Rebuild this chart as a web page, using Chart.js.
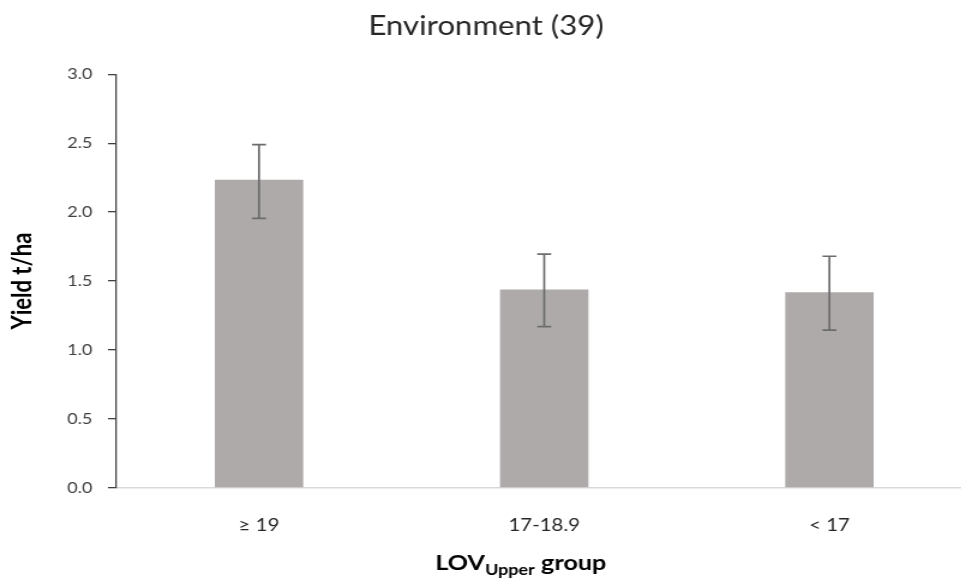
<!DOCTYPE html>
<html lang="en">
<head>
<meta charset="UTF-8">
<title>Environment (39)</title>
<script src="https://cdn.jsdelivr.net/npm/chart.js"></script>
<style>
html,body{margin:0;padding:0;background:#fff;overflow:hidden;}
.wrap{width:961px;height:582px;overflow:hidden;position:relative;}
/* the reference is drawn slightly wider than tall, so stretch the canvas sideways */
#yieldChart{position:absolute;left:0;top:0;transform:scaleX(1.2);transform-origin:0 0;}
</style>
</head>
<body>
<div class="wrap">
<canvas id="yieldChart" width="810" height="582"></canvas>
</div>

<script>
const groups = ['\u2265 19', '17-18.9', '< 17'];
const yieldMean = [2.235, 1.44, 1.42];
const errLow = [1.955, 1.17, 1.145];
const errHigh = [2.49, 1.695, 1.68];
const yTickLabels = ['0.0', '0.5', '1.0', '1.5', '2.0', '2.5', '3.0'];

const FONT = 'Lato, "Open Sans", sans-serif';

// whiskers with flat caps
const errorBars = {
    id:'errorBars',
    afterDatasetsDraw(chart){
        const ctx = chart.ctx;
        const y = chart.scales.y;
        const meta = chart.getDatasetMeta(0);
        ctx.save();
        ctx.strokeStyle = '#6c6c6c';
        ctx.lineWidth = 1.7;
        meta.data.forEach((bar, i) => {
            const top = y.getPixelForValue(errHigh[i]);
            const bot = y.getPixelForValue(errLow[i]);
            ctx.beginPath();
            ctx.moveTo(bar.x, top); ctx.lineTo(bar.x, bot);
            ctx.moveTo(bar.x - 5.8, top); ctx.lineTo(bar.x + 5.8, top);
            ctx.moveTo(bar.x - 5.8, bot); ctx.lineTo(bar.x + 5.8, bot);
            ctx.stroke();
        });
        ctx.restore();
    }
};

// x axis title needs a subscript, so draw it by hand
const xTitle = {
    id:'xTitle',
    afterDraw(chart){
        const ctx = chart.ctx;
        const parts = [
            {t:'LOV', f:'bold 21px ' + FONT, dy:0},
            {t:'Upper', f:'bold 15px ' + FONT, dy:5},
            {t:' group', f:'bold 21px ' + FONT, dy:0}
        ];
        ctx.save();
        ctx.fillStyle = '#000';
        ctx.textBaseline = 'alphabetic';
        let total = 0;
        parts.forEach(p => { ctx.font = p.f; p.w = ctx.measureText(p.t).width; total += p.w; });
        let x = 434 - total / 2;
        parts.forEach(p => {
            ctx.font = p.f;
            ctx.fillText(p.t, x, 570 + p.dy);
            x += p.w;
        });
        ctx.restore();
    }
};

const chart = new Chart(document.getElementById('yieldChart'), {
    type:'bar',
    data:{
        labels:groups,
        datasets:[{
            data:yieldMean,
            backgroundColor:'#AEAAAA',
            borderWidth:0,
            categoryPercentage:1,
            barPercentage:0.31
        }]
    },
    options:{
        responsive:false,
        animation:false,
        devicePixelRatio:1,
        layout:{padding:{left:0, right:0, top:0, bottom:0}},
        plugins:{
            legend:{display:false},
            tooltip:{enabled:false},
            title:{
                display:true,
                text:'Environment (39)',
                color:'#262626',
                font:{family:FONT, size:26, weight:'normal'},
                padding:{top:11, bottom:32}
            }
        },
        scales:{
            x:{
                grid:{display:true, drawOnChartArea:false, drawTicks:false, color:'rgba(0,0,0,0)'},
                border:{display:true, color:'#D9D9D9', width:1.5},
                ticks:{color:'#262626', font:{family:FONT, size:17}, padding:27},
                afterFit(scale){ scale.height = 94; }
            },
            y:{
                min:0,
                max:3,
                ticks:{
                    stepSize:0.5,
                    color:'#404040',
                    font:{family:FONT, size:15},
                    padding:13,
                    callback:(v, i) => yTickLabels[i]
                },
                grid:{drawOnChartArea:false, drawTicks:true, tickLength:7, color:'#404040', lineWidth:1.3},
                border:{display:true, color:'#404040', width:1.3},
                title:{
                    display:true,
                    text:'Yield t/ha',
                    color:'#000',
                    font:{family:FONT, size:22, weight:'bold'},
                    padding:{top:6, bottom:0}
                },
                afterFit(scale){ scale.width = 97; }
            }
        }
    },
    plugins:[errorBars, xTitle]
});
</script>
</body>
</html>
